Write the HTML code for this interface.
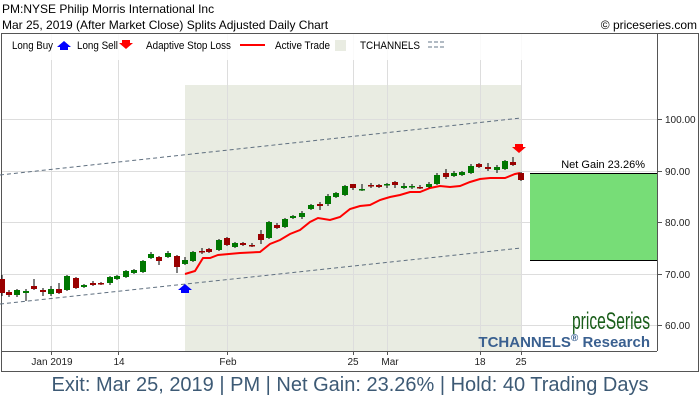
<!DOCTYPE html>
<html><head><meta charset="utf-8"><style>
html,body{margin:0;padding:0;background:#fff;width:700px;height:400px;overflow:hidden}
svg text{font-family:"Liberation Sans",Arial,sans-serif}
</style></head><body>
<svg width="700" height="400" viewBox="0 0 700 400" xmlns="http://www.w3.org/2000/svg">
<text x="2" y="13" font-size="12" fill="#000">PM:NYSE Philip Morris International Inc</text>
<text x="2" y="29" font-size="12" fill="#000">Mar 25, 2019 (After Market Close)  Splits Adjusted Daily Chart</text>
<text x="697" y="29" font-size="12" fill="#000" text-anchor="end">© priceseries.com</text>
<rect x="1.5" y="33.5" width="697" height="338" fill="none" stroke="#555"/>
<rect x="185" y="85" width="336" height="266" fill="#e9ece2"/>
<g stroke="#ddd" stroke-width="1">
<line x1="2" y1="119.5" x2="657" y2="119.5"/><line x1="2" y1="171.5" x2="657" y2="171.5"/><line x1="2" y1="222.5" x2="657" y2="222.5"/><line x1="2" y1="274.5" x2="657" y2="274.5"/><line x1="2" y1="325.5" x2="657" y2="325.5"/>
<line x1="51.5" y1="34" x2="51.5" y2="351"/><line x1="118.5" y1="34" x2="118.5" y2="351"/><line x1="227.5" y1="34" x2="227.5" y2="351"/><line x1="353.5" y1="34" x2="353.5" y2="351"/><line x1="387.5" y1="34" x2="387.5" y2="351"/><line x1="480.5" y1="34" x2="480.5" y2="351"/><line x1="521.5" y1="34" x2="521.5" y2="351"/>
</g>
<rect x="2" y="34" width="655" height="26" fill="#fff" fill-opacity="0.85"/>
<g font-size="11" fill="#000">
<text x="12" y="49" textLength="41" lengthAdjust="spacingAndGlyphs">Long Buy</text><path d="M57 47 l7 -6 l7 6 h-3 v3 h-8 v-3z" fill="#0000ff"/>
<text x="77" y="49" textLength="41" lengthAdjust="spacingAndGlyphs">Long Sell</text><path d="M122 40 h8 v3 h3 l-7 6 l-7 -6 h3z" fill="#ff0000"/>
<text x="146" y="49" textLength="85" lengthAdjust="spacingAndGlyphs">Adaptive Stop Loss</text><line x1="240" y1="45" x2="265" y2="45" stroke="#f00" stroke-width="2"/>
<text x="275" y="49" textLength="55" lengthAdjust="spacingAndGlyphs">Active Trade</text><rect x="335" y="40" width="11" height="11" fill="#e9ece2"/>
<text x="360" y="49" textLength="60" lengthAdjust="spacingAndGlyphs">TCHANNELS</text>
<line x1="428" y1="42" x2="446" y2="42" stroke="#678" stroke-dasharray="4,2"/>
<line x1="428" y1="47" x2="446" y2="47" stroke="#678" stroke-dasharray="4,2"/>
</g>
<line x1="0" y1="175" x2="521" y2="118" stroke="#607080" stroke-dasharray="4,3"/>
<line x1="0" y1="304" x2="521" y2="248" stroke="#607080" stroke-dasharray="4,3"/>
<rect x="530" y="173" width="127" height="87" fill="#77dd77"/>
<line x1="530" y1="173.5" x2="657" y2="173.5" stroke="#000"/><line x1="530" y1="260.5" x2="657" y2="260.5" stroke="#000"/>
<text x="645" y="168" font-size="11" text-anchor="end">Net Gain 23.26%</text>
<polyline fill="none" stroke="#ff0000" stroke-width="2" points="185,274 195,271 203,258 210,258 218,255 240,253 260,252 270,244 280,240 290,234 300,230 310,222 318,218 330,220 340,217 350,209 360,206 370,205 380,200 390,197 400,195 410,192 420,192 430,188 440,186 450,187 460,186 470,182 480,179 490,178 505,178 515,174 520,173"/>
<path d="M178 290 l7 -6 l7 6 h-3 v3 h-8 v-3z" fill="#0000ff"/>
<path d="M515 144 h8 v3 h3 l-7 6 l-7 -6 h3z" fill="#ff0000"/>
<line x1="657.5" y1="34" x2="657.5" y2="351" stroke="#555"/>
<line x1="2" y1="351.5" x2="657" y2="351.5" stroke="#555"/>
<g stroke="#555"><line x1="657" y1="119.5" x2="662" y2="119.5"/><line x1="657" y1="171.5" x2="662" y2="171.5"/><line x1="657" y1="222.5" x2="662" y2="222.5"/><line x1="657" y1="274.5" x2="662" y2="274.5"/><line x1="657" y1="325.5" x2="662" y2="325.5"/>
<line x1="51.5" y1="351" x2="51.5" y2="355"/><line x1="118.5" y1="351" x2="118.5" y2="355"/><line x1="227.5" y1="351" x2="227.5" y2="355"/><line x1="353.5" y1="351" x2="353.5" y2="355"/><line x1="387.5" y1="351" x2="387.5" y2="355"/><line x1="480.5" y1="351" x2="480.5" y2="355"/><line x1="521.5" y1="351" x2="521.5" y2="355"/></g>
<g font-size="10" fill="#222">
<text x="665" y="123">100.00</text><text x="665" y="175">90.00</text><text x="665" y="226">80.00</text><text x="665" y="278">70.00</text><text x="665" y="329">60.00</text>
<text x="52" y="365" text-anchor="middle">Jan 2019</text><text x="119" y="365" text-anchor="middle">14</text><text x="228" y="365" text-anchor="middle">Feb</text><text x="353" y="365" text-anchor="middle">25</text><text x="390" y="365" text-anchor="middle">Mar</text><text x="480" y="365" text-anchor="middle">18</text><text x="521" y="365" text-anchor="middle">25</text>
</g>
<text x="572" y="329" font-size="24" fill="#1a5e1a" textLength="78" lengthAdjust="spacingAndGlyphs">priceSeries</text>
<text x="650" y="347" font-size="15" font-weight="bold" fill="#3a6090" text-anchor="end">TCHANNELS<tspan font-size="10" dy="-6">®</tspan><tspan dy="6"> Research</tspan></text>
<text x="350" y="391" font-size="20" fill="#3d5a75" text-anchor="middle">Exit: Mar 25, 2019 | PM | Net Gain: 23.26% | Hold: 40 Trading Days</text>
<g stroke-width="1">
<line x1="2" y1="275" x2="2" y2="296" stroke="#000"/><rect x="0" y="279" width="5" height="14" fill="#990000"/>
<line x1="9" y1="290" x2="9" y2="297" stroke="#000"/><rect x="6" y="292" width="6" height="3" fill="#990000"/>
<line x1="17" y1="289" x2="17" y2="297" stroke="#000"/><rect x="14" y="290" width="6" height="5" fill="#007700"/>
<line x1="26" y1="289" x2="26" y2="301" stroke="#000"/><rect x="23" y="291" width="6" height="2" fill="#007700"/>
<line x1="34" y1="279" x2="34" y2="290" stroke="#000"/><rect x="31" y="286" width="6" height="3" fill="#990000"/>
<line x1="43" y1="288" x2="43" y2="296" stroke="#000"/><rect x="40" y="290" width="6" height="2" fill="#990000"/>
<line x1="51" y1="286" x2="51" y2="296" stroke="#000"/><rect x="48" y="289" width="6" height="5" fill="#007700"/>
<line x1="59" y1="283" x2="59" y2="294" stroke="#000"/><rect x="56" y="289" width="6" height="4" fill="#990000"/>
<line x1="67" y1="275" x2="67" y2="291" stroke="#000"/><rect x="64" y="276" width="6" height="14" fill="#007700"/>
<line x1="76" y1="277" x2="76" y2="289" stroke="#000"/><rect x="73" y="278" width="6" height="10" fill="#990000"/>
<line x1="84" y1="284" x2="84" y2="288" stroke="#000"/><rect x="81" y="285" width="6" height="2" fill="#007700"/>
<line x1="93" y1="281" x2="93" y2="286" stroke="#000"/><rect x="90" y="283" width="6" height="2" fill="#990000"/>
<line x1="101" y1="282" x2="101" y2="285" stroke="#000"/><rect x="98" y="283" width="6" height="1.5" fill="#990000"/>
<line x1="110" y1="276" x2="110" y2="285" stroke="#000"/><rect x="107" y="277" width="6" height="6" fill="#007700"/>
<line x1="117" y1="275" x2="117" y2="280" stroke="#000"/><rect x="114" y="276" width="6" height="3" fill="#007700"/>
<line x1="126" y1="270" x2="126" y2="278" stroke="#000"/><rect x="123" y="271" width="6" height="6" fill="#007700"/>
<line x1="134" y1="269" x2="134" y2="274" stroke="#000"/><rect x="131" y="270" width="6" height="3" fill="#007700"/>
<line x1="143" y1="260" x2="143" y2="273" stroke="#000"/><rect x="140" y="261" width="6" height="11" fill="#007700"/>
<line x1="151" y1="252" x2="151" y2="259" stroke="#000"/><rect x="148" y="254" width="6" height="4" fill="#007700"/>
<line x1="159" y1="256" x2="159" y2="265" stroke="#000"/><rect x="156" y="257" width="6" height="4" fill="#990000"/>
<line x1="168" y1="251" x2="168" y2="258" stroke="#000"/><rect x="165" y="253" width="6" height="4" fill="#007700"/>
<line x1="177" y1="255" x2="177" y2="273" stroke="#000"/><rect x="174" y="256" width="6" height="11" fill="#990000"/>
<line x1="185" y1="257" x2="185" y2="265" stroke="#000"/><rect x="182" y="260" width="6" height="4" fill="#007700"/>
<line x1="193" y1="251" x2="193" y2="262" stroke="#000"/><rect x="190" y="252" width="6" height="9" fill="#007700"/>
<line x1="202" y1="248" x2="202" y2="254" stroke="#000"/><rect x="199" y="251" width="6" height="1.5" fill="#990000"/>
<line x1="209" y1="248" x2="209" y2="253" stroke="#000"/><rect x="206" y="249" width="6" height="3" fill="#990000"/>
<line x1="219" y1="239" x2="219" y2="251" stroke="#000"/><rect x="216" y="240" width="6" height="10" fill="#007700"/>
<line x1="227" y1="237" x2="227" y2="246" stroke="#000"/><rect x="224" y="238" width="6" height="7" fill="#990000"/>
<line x1="235" y1="242" x2="235" y2="248" stroke="#000"/><rect x="232" y="243" width="6" height="4" fill="#007700"/>
<line x1="243" y1="242" x2="243" y2="246" stroke="#000"/><rect x="240" y="243" width="6" height="2" fill="#990000"/>
<line x1="252" y1="243" x2="252" y2="247" stroke="#000"/><rect x="249" y="245" width="6" height="1.5" fill="#990000"/>
<line x1="261" y1="230" x2="261" y2="244" stroke="#000"/><rect x="258" y="234" width="6" height="6" fill="#990000"/>
<line x1="269" y1="221" x2="269" y2="239" stroke="#000"/><rect x="266" y="222" width="6" height="16" fill="#007700"/>
<line x1="277" y1="223" x2="277" y2="229" stroke="#000"/><rect x="274" y="225" width="6" height="3" fill="#990000"/>
<line x1="285" y1="218" x2="285" y2="228" stroke="#000"/><rect x="282" y="219" width="6" height="8" fill="#007700"/>
<line x1="293" y1="215" x2="293" y2="219" stroke="#000"/><rect x="290" y="216" width="6" height="2" fill="#007700"/>
<line x1="302" y1="211" x2="302" y2="219" stroke="#000"/><rect x="299" y="213" width="6" height="4" fill="#007700"/>
<line x1="311" y1="204" x2="311" y2="210" stroke="#000"/><rect x="308" y="205" width="6" height="4" fill="#007700"/>
<line x1="320" y1="202" x2="320" y2="210" stroke="#000"/><rect x="317" y="204" width="6" height="2" fill="#990000"/>
<line x1="328" y1="194" x2="328" y2="206" stroke="#000"/><rect x="325" y="196" width="6" height="8" fill="#007700"/>
<line x1="336" y1="192" x2="336" y2="198" stroke="#000"/><rect x="333" y="193" width="6" height="4" fill="#007700"/>
<line x1="345" y1="185" x2="345" y2="196" stroke="#000"/><rect x="342" y="186" width="6" height="9" fill="#007700"/>
<line x1="353" y1="184" x2="353" y2="190" stroke="#000"/><rect x="350" y="184" width="6" height="4" fill="#990000"/>
<line x1="362" y1="184" x2="362" y2="191" stroke="#000"/><rect x="359" y="189" width="6" height="1.5" fill="#007700"/>
<line x1="371" y1="183" x2="371" y2="188" stroke="#000"/><rect x="368" y="185" width="6" height="1.5" fill="#990000"/>
<line x1="379" y1="184" x2="379" y2="188" stroke="#000"/><rect x="376" y="185" width="6" height="2" fill="#990000"/>
<line x1="387" y1="183" x2="387" y2="188" stroke="#000"/><rect x="384" y="184" width="6" height="1.5" fill="#007700"/>
<line x1="395" y1="181" x2="395" y2="188" stroke="#000"/><rect x="392" y="182" width="6" height="3" fill="#990000"/>
<line x1="404" y1="183" x2="404" y2="189" stroke="#000"/><rect x="401" y="186" width="6" height="2" fill="#007700"/>
<line x1="412" y1="184" x2="412" y2="189" stroke="#000"/><rect x="409" y="186" width="6" height="1.5" fill="#007700"/>
<line x1="420" y1="185" x2="420" y2="189" stroke="#000"/><rect x="417" y="187" width="6" height="1.5" fill="#990000"/>
<line x1="429" y1="182" x2="429" y2="188" stroke="#000"/><rect x="426" y="184" width="6" height="3" fill="#007700"/>
<line x1="437" y1="173" x2="437" y2="185" stroke="#000"/><rect x="434" y="175" width="6" height="9" fill="#007700"/>
<line x1="446" y1="169" x2="446" y2="179" stroke="#000"/><rect x="443" y="173" width="6" height="4" fill="#990000"/>
<line x1="454" y1="171" x2="454" y2="177" stroke="#000"/><rect x="451" y="173" width="6" height="3" fill="#007700"/>
<line x1="462" y1="171" x2="462" y2="176" stroke="#000"/><rect x="459" y="172" width="6" height="3" fill="#007700"/>
<line x1="471" y1="164" x2="471" y2="174" stroke="#000"/><rect x="468" y="166" width="6" height="7" fill="#007700"/>
<line x1="479" y1="163" x2="479" y2="168" stroke="#000"/><rect x="476" y="164" width="6" height="3" fill="#990000"/>
<line x1="488" y1="163" x2="488" y2="171" stroke="#000"/><rect x="485" y="167" width="6" height="2" fill="#990000"/>
<line x1="497" y1="165" x2="497" y2="173" stroke="#000"/><rect x="494" y="167" width="6" height="3" fill="#007700"/>
<line x1="505" y1="160" x2="505" y2="170" stroke="#000"/><rect x="502" y="161" width="6" height="8" fill="#007700"/>
<line x1="513" y1="157" x2="513" y2="166" stroke="#000"/><rect x="510" y="162" width="6" height="3" fill="#990000"/>
<line x1="521" y1="172" x2="521" y2="181" stroke="#000"/><rect x="518" y="173" width="6" height="7" fill="#990000"/>
</g>
</svg>
</body></html>
